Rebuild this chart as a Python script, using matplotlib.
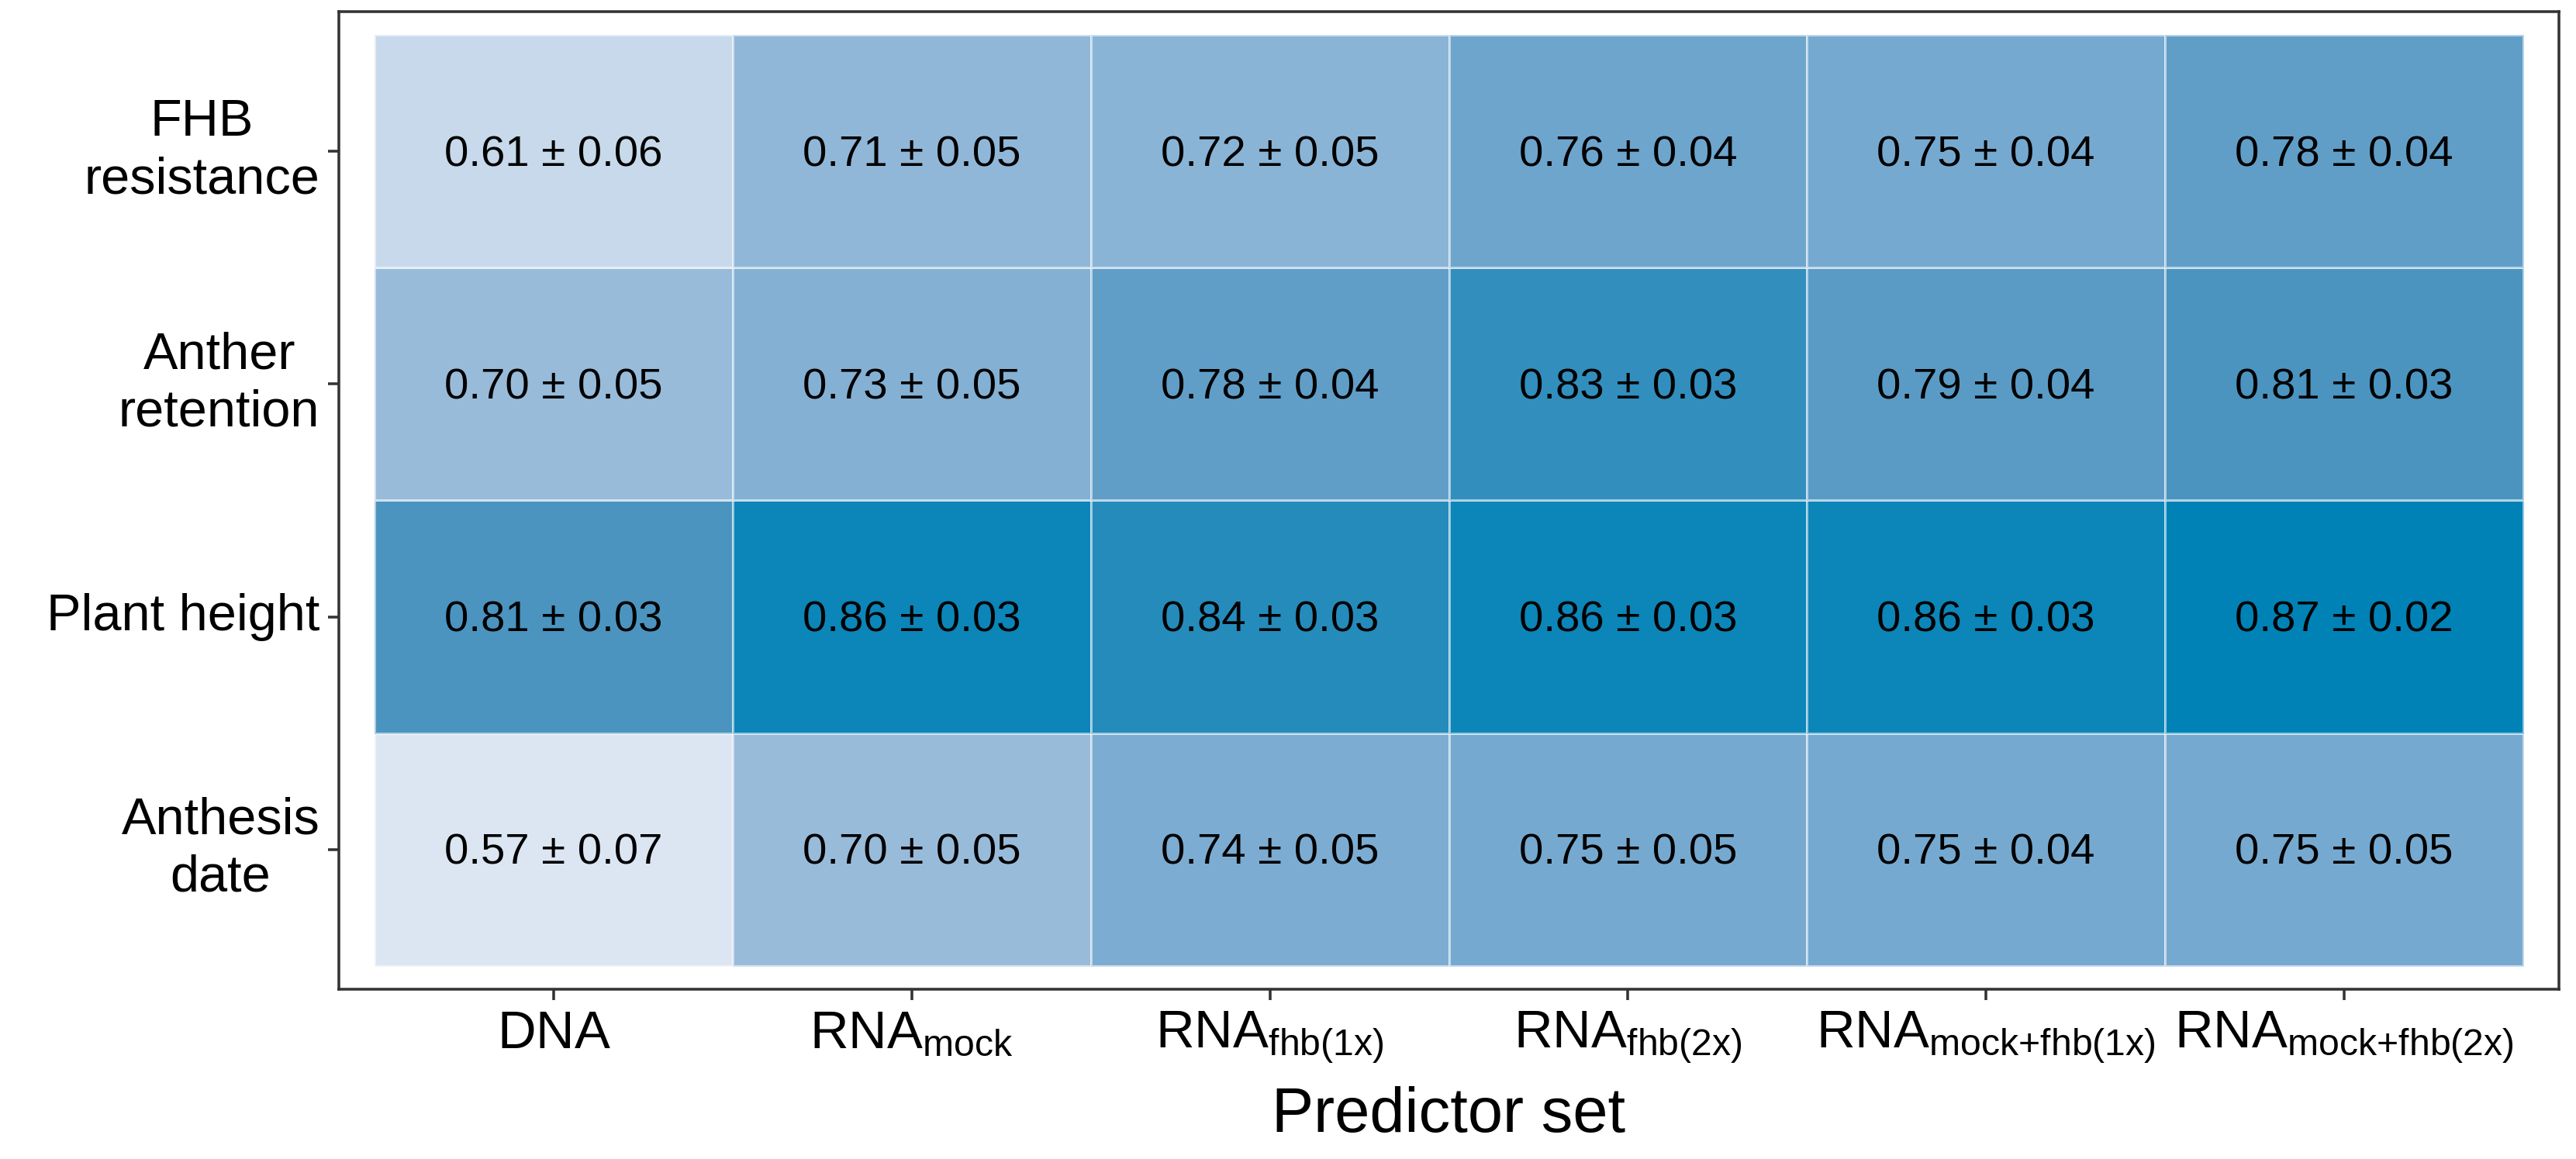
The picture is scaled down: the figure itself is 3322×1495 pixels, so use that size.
import numpy as np
import matplotlib
matplotlib.use("Agg")
import matplotlib.pyplot as plt
from matplotlib.colors import LinearSegmentedColormap, Normalize
from matplotlib.transforms import offset_copy

plt.rcParams['font.family'] = ['Liberation Sans', 'DejaVu Sans']
plt.rcParams['mathtext.fontset'] = 'custom'
plt.rcParams['mathtext.rm'] = 'Liberation Sans'
plt.rcParams['mathtext.it'] = 'Liberation Sans:italic'
plt.rcParams['mathtext.bf'] = 'Liberation Sans:bold'

# traits, top row first
traits = ["FHB\nresistance", "Anther\nretention", "Plant height", "Anthesis\ndate"]
# "{+}" keeps mathtext from padding the plus sign
predictors = [r"$\mathrm{DNA}$",
              r"$\mathrm{RNA}_{\mathrm{mock}}$",
              r"$\mathrm{RNA}_{\mathrm{fhb(1x)}}$",
              r"$\mathrm{RNA}_{\mathrm{fhb(2x)}}$",
              r"$\mathrm{RNA}_{\mathrm{mock{+}fhb(1x)}}$",
              r"$\mathrm{RNA}_{\mathrm{mock{+}fhb(2x)}}$"]

# mean prediction accuracy per trait (rows) and predictor set (cols)
r_mean = np.array([
    [0.61, 0.71, 0.72, 0.76, 0.75, 0.78],
    [0.70, 0.73, 0.78, 0.83, 0.79, 0.81],
    [0.81, 0.86, 0.84, 0.86, 0.86, 0.87],
    [0.57, 0.70, 0.74, 0.75, 0.75, 0.75],
])
r_sd = np.array([
    [0.06, 0.05, 0.05, 0.04, 0.04, 0.04],
    [0.05, 0.05, 0.04, 0.03, 0.04, 0.03],
    [0.03, 0.03, 0.03, 0.03, 0.03, 0.02],
    [0.07, 0.05, 0.05, 0.05, 0.04, 0.05],
])

# fill gradient (light -> dark blue)
vmin, vmax = 0.57, 0.87
anchors = [(0.57, "#dce6f2"), (0.61, "#c7d9ea"), (0.70, "#98bbda"),
           (0.75, "#76a9d0"), (0.81, "#4b94c0"), (0.87, "#0082b6")]
cmap = LinearSegmentedColormap.from_list(
    "acc", [((v - vmin) / (vmax - vmin), c) for v, c in anchors])
norm = Normalize(vmin, vmax)

W, H, DPI = 3322, 1495, 300
fig = plt.figure(figsize=(W / DPI, H / DPI), dpi=DPI)
ax = fig.add_axes([437 / W, 1 - 1276 / H, (3300 - 437) / W, (1276 - 15) / H])

n_rows, n_cols = r_mean.shape
xe = np.arange(n_cols + 1) + 0.5
ye = np.arange(n_rows + 1) + 0.5
# flip so the first trait sits at the top
ax.pcolormesh(xe, ye, r_mean[::-1], cmap=cmap, norm=norm,
              edgecolors=(1, 1, 1, 0.55), linewidth=0.35)

# nudge labels down a touch so the digits sit in the middle of the tile
cell_tr = offset_copy(ax.transData, fig=fig, x=0, y=-1.2, units="points")
for i in range(n_rows):
    for j in range(n_cols):
        ax.text(j + 1, n_rows - i, f"{r_mean[i, j]:.2f} ± {r_sd[i, j]:.2f}",
                ha="center", va="center", fontsize=13.5, color="black",
                transform=cell_tr)

ax.set_xlim(0.4, n_cols + 0.6)
ax.set_ylim(0.4, n_rows + 0.6)
ax.set_xticks(np.arange(1, n_cols + 1))
ax.set_xticklabels(predictors)
ax.set_yticks(np.arange(n_rows, 0, -1))
ax.set_yticklabels(traits, multialignment="center", linespacing=1.25, va="center")

for s in ax.spines.values():
    s.set_color("#333333")
    s.set_linewidth(0.85)
ax.tick_params(axis="both", colors="#333333", width=0.85, length=3.3,
               labelcolor="black", labelsize=16.5)
ax.tick_params(axis="y", pad=2.6, labelsize=16)
ax.tick_params(axis="x", pad=2.9)

ax.set_xlabel("Predictor set", fontsize=19.5, labelpad=6.5)

fig.savefig("out.png", dpi=DPI)
